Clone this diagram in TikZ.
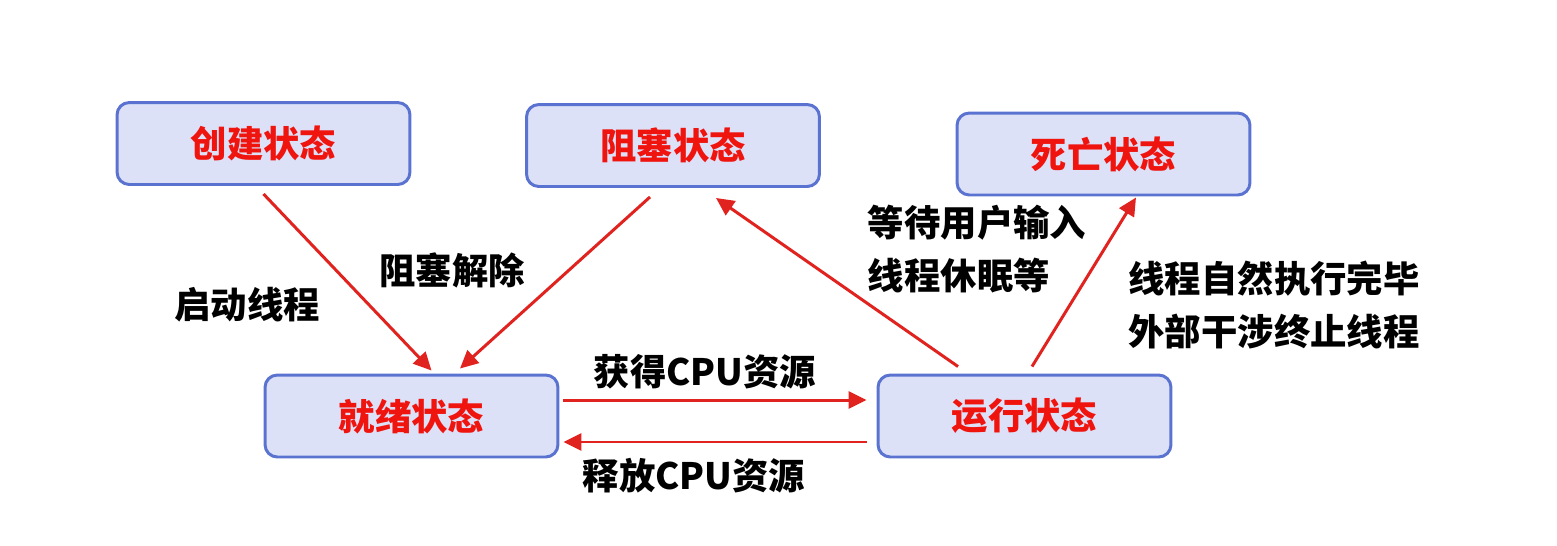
\documentclass[tikz,border=0pt]{standalone}
\usepackage{fontspec}
\setmainfont{Noto Sans CJK SC}
\usetikzlibrary{arrows.meta,calc,positioning}
\definecolor{boxfill}{HTML}{DCE1F8}
\definecolor{boxline}{HTML}{5B73D0}
\definecolor{statered}{HTML}{F0140F}
\definecolor{arrowred}{HTML}{E0231E}
\tikzset{
    state diagram/.style = {>={Triangle[length=3.6mm, width=3.4mm]}},
    state/.style         = {draw=boxline, line width=1.7pt, fill=boxfill,
                            rounded corners=7pt, text=statered,
                            font=\fontsize{20.7}{24}\selectfont\bfseries,
                            minimum width=5.86cm, minimum height=1.64cm},
    trans/.style         = {->, draw=arrowred, line width=1.7pt},
    tlabel/.style        = {font=\fontsize{20.7}{24}\selectfont\bfseries,
                            align=left, inner sep=0pt}
}

\begin{document}
\begin{tikzpicture}[state diagram, x=0.02cm, y=-0.02cm]
\useasboundingbox (0,0) rectangle (1557,545);

% Thread states
\node[state] (create) at (263.5,143.5) {创建状态};
\node[state] (blocked) at (673,145.5) {阻塞状态};
\node[state] (dead) at (1103.5,154) {死亡状态};
\node[state] (ready) at (411.5,416) {就绪状态};
\node[state] (running) at (1024.5,416) {运行状态};

% Transitions into the ready state
\draw[trans] ([yshift=-0.16cm]create.south)
    -- ([xshift=0.40cm, yshift=0.06cm]ready.north);
\draw[trans] ([xshift=-0.46cm, yshift=-0.18cm]blocked.south)
    -- ([xshift=0.97cm, yshift=0.10cm]ready.north);

% CPU scheduling between ready and running
\draw[trans] ([xshift=0.08cm, yshift=0.32cm]ready.east)
    -- ([xshift=-0.20cm, yshift=0.32cm]running.west);
\draw[trans] ([xshift=-0.20cm, yshift=-0.52cm]running.west)
    -- ([xshift=0.08cm, yshift=-0.52cm]ready.east);

% Transitions out of the running state
\draw[trans] ([xshift=-1.33cm, yshift=0.14cm]running.north)
    -- ([xshift=0.86cm, yshift=-0.20cm]blocked.south);
\draw[trans] ([xshift=0.15cm, yshift=0.14cm]running.north)
    -- ([xshift=0.65cm, yshift=-0.02cm]dead.south);

% Transition labels
\node[tlabel] (start) at (247,305) {启动线程};
\node[tlabel] (unblock) at (452,270) {阻塞解除};
\node[tlabel] (wait) at (977,249) {等待用户输入\\[0.2cm]线程休眠等};
\node[tlabel] (finish) at (1274,305) {线程自然执行完毕\\[0.2cm]外部干涉终止线程};
\node[tlabel] (getcpu) at (705,372) {获得CPU资源};
\node[tlabel] (freecpu) at (694,476) {释放CPU资源};

\end{tikzpicture}
\end{document}
